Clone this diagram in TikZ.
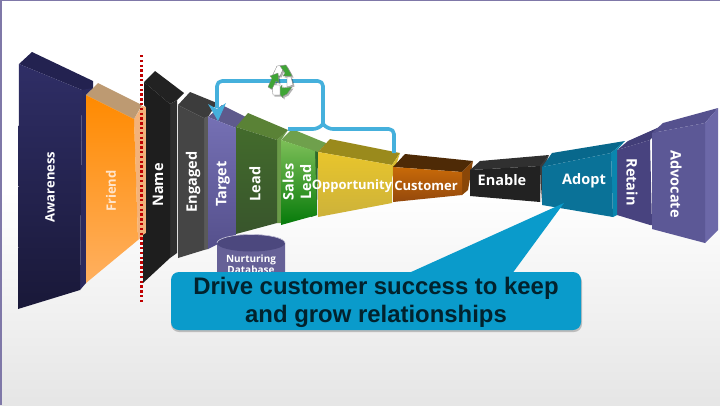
\documentclass[tikz,border=0pt]{standalone}
\usepackage{fontspec}
\setmainfont{Open Sans}
\newfontfamily\calloutfont{Liberation Sans}
\usetikzlibrary{arrows.meta,calc}
\definecolor{flow}{HTML}{45B0DC}
\definecolor{callblue}{HTML}{0A9BCB}
\definecolor{slideedge}{HTML}{7F78A8}
\definecolor{awaT}{HTML}{2F2E66}\definecolor{awaB}{HTML}{191838}\definecolor{awaTop}{HTML}{232250}\definecolor{awaS}{HTML}{2B2A5E}
\definecolor{friT}{HTML}{FF8A00}\definecolor{friB}{HTML}{FFB060}\definecolor{friTop}{HTML}{BD9A72}\definecolor{friS}{HTML}{F3B27A}
\definecolor{namF}{HTML}{1E1E1E}\definecolor{namS}{HTML}{2E2E2E}\definecolor{namTop}{HTML}{222222}
\definecolor{engF}{HTML}{454545}\definecolor{engS}{HTML}{5A5A5A}\definecolor{engTop}{HTML}{3C3C3C}
\definecolor{tarT}{HTML}{7570B4}\definecolor{tarB}{HTML}{55508C}\definecolor{tarTop}{HTML}{5E5A8C}
\definecolor{leaT}{HTML}{436B2C}\definecolor{leaB}{HTML}{38552C}\definecolor{leaTop}{HTML}{5A8236}\definecolor{leaS}{HTML}{6A9A48}
\definecolor{salT}{HTML}{7DBF58}\definecolor{salB}{HTML}{067A0A}\definecolor{salTop}{HTML}{6FA04C}\definecolor{salS}{HTML}{2F6A2A}
\definecolor{oppT}{HTML}{E8C52C}\definecolor{oppB}{HTML}{CDB23A}\definecolor{oppTop}{HTML}{9A8A1C}\definecolor{oppS}{HTML}{D9BC30}
\definecolor{cusT}{HTML}{C86A08}\definecolor{cusB}{HTML}{94480C}\definecolor{cusTop}{HTML}{4E2A06}\definecolor{cusS}{HTML}{8A4708}
\definecolor{enaF}{HTML}{222222}\definecolor{enaTop}{HTML}{303030}\definecolor{enaS}{HTML}{3C3C3C}
\definecolor{adoF}{HTML}{0A7298}\definecolor{adoTop}{HTML}{08688C}\definecolor{adoS}{HTML}{0A86AE}
\definecolor{retF}{HTML}{48437F}\definecolor{retTop}{HTML}{423E78}
\definecolor{advF}{HTML}{5C5896}\definecolor{advTop}{HTML}{55518E}\definecolor{advS}{HTML}{6C68A8}
\definecolor{recG}{HTML}{3FA535}
\tikzset{
 lab/.style={text=white,font=\bfseries\fontsize{13}{14}\selectfont,inner sep=0pt,align=center},
 lab145/.style={lab,font=\bfseries\fontsize{14.5}{15}\selectfont},
 vlab/.style={lab,rotate=90},
 vlabbig/.style={lab145,rotate=90},
 rlabbig/.style={lab145,rotate=-90},
 flowline/.style={draw=flow,line width=3.6pt,line join=round,rounded corners=5pt},
 reca/.style={fill=recG,draw=black!45,line width=.3pt},
 recb/.style={fill=white,draw=black!55,line width=.3pt},
}
\newcommand{\vface}[3]{\shade[top color=#1,bottom color=#2] #3 -- cycle;}
\newcommand{\pface}[2]{\fill[#1] #2 -- cycle;}
\newcommand{\recblades}[2]{%
\path[#2] (272.7,75) -- (277,66) -- (285,65) -- (280,76) -- cycle;
\path[#1] (280,66) -- (286,65) -- (290,72) -- (292,76) -- (283,76) -- (285,73) -- cycle;
\path[#2] (287,77) -- (291,77) -- (293,85) -- (287,87) -- cycle;
\path[#1] (282,88) -- (292,87) -- (287,94) -- (283,96) -- (283,98) -- (277,91) -- (282,85) -- cycle;
\path[#2] (272,85) -- (280,85) -- (280,95) -- (273,95) -- cycle;
\path[#1] (268,87) -- (272,78) -- (270,76) -- (278,73) -- (279,83) -- (276,81) -- (272,89) -- cycle;}
\begin{document}
\begin{tikzpicture}[x=1pt,y=-1pt]
\useasboundingbox (0,0) rectangle (720,405);
% background
\fill[white] (0,0) rectangle (720,405);
\shade[top color=white,bottom color=black!10] (0,190) rectangle (720,405);
\fill[slideedge] (0,0) rectangle (720,1);
\fill[slideedge] (0,0) rectangle (1.5,405);
% Awareness
\pface{awaTop}{(19,64) -- (32,52) -- (93,81) -- (93,90) -- (82,90)}
\pface{awaS}{(82,90) -- (93,88) -- (86,95) -- (86,283) -- (80,290)}
\vface{awaT}{awaB}{(19,64) -- (82,90) -- (80,290) -- (18,309)}
% Friend
\pface{friS}{(134,119) -- (142,106) -- (147,107) -- (147,233) -- (138,240)}
\pface{friTop}{(86,95) -- (98,83) -- (142,105) -- (134,119)}
\vface{friT}{friB}{(86,95) -- (134,119) -- (138,240) -- (86,283)}
% Name
\pface{namTop}{(144,82) -- (155,71) -- (184,93) -- (177,100) -- (170,104)}
\pface{namS}{(170,104) -- (177,100) -- (177,253) -- (170,258)}
\pface{namF}{(144,82) -- (170,104) -- (170,258) -- (143,283) -- (143,235) -- (146,233) -- (146,107) -- (144,105)}
% Engaged
\pface{engTop}{(178,105) -- (190,92) -- (217,103) -- (208,117) -- (204,118)}
\pface{engS}{(204,118) -- (208,116) -- (208,249) -- (204,250)}
\pface{engF}{(178,105) -- (204,118) -- (204,250) -- (178,258)}
% Target
\pface{tarTop}{(208,117) -- (222,105) -- (248,118) -- (236,128)}
\vface{tarT}{tarB}{(208,117) -- (236,128) -- (236,235) -- (208,249)}
% Lead
\pface{leaS}{(277,140) -- (288,130) -- (281,140) -- (281,223) -- (277,223)}
\pface{leaTop}{(236,127) -- (248,113) -- (288,130) -- (277,140)}
\vface{leaT}{leaB}{(236,127) -- (277,140) -- (277,223) -- (236,234)}
% Sales Lead
\pface{salS}{(311,148) -- (326,143) -- (318,152) -- (317,215) -- (311,217)}
\pface{salTop}{(281,140) -- (292,129) -- (326,143) -- (318,152) -- (311,150)}
\vface{salT}{salB}{(281,140) -- (315,151) -- (317,215) -- (281,225)}
% Opportunity
\pface{oppTop}{(318,152) -- (330,139) -- (400,153) -- (392,165)}
\pface{oppS}{(392,165) -- (400,153) -- (392,178)}
\vface{oppT}{oppB}{(318,152) -- (392,165) -- (392,203) -- (318,217)}
% Customer
\pface{cusTop}{(393,167) -- (405,154) -- (473,161) -- (462,172)}
\pface{cusS}{(462,172) -- (473,161) -- (468,190) -- (462,195)}
\vface{cusT}{cusB}{(393,167) -- (462,172) -- (462,195) -- (393,202)}
% Enable
\pface{enaTop}{(470,170) -- (480,161) -- (549,155) -- (541,166)}
\pface{enaS}{(540,166) -- (549,155) -- (543,170) -- (541,202)}
\pface{enaF}{(470,170) -- (540,166) -- (540,202) -- (470,196)}
% Advocate / Retain
\pface{retTop}{(617,150) -- (628,141) -- (664,125) -- (650,140)}
\pface{retF}{(617,150) -- (650,140) -- (652,225) -- (650,225) -- (617,215)}
\pface{advTop}{(652,133) -- (663,123) -- (718,108) -- (705,123)}
\pface{advS}{(705,123) -- (718,108) -- (718,230) -- (705,243)}
\pface{advF}{(652,133) -- (705,123) -- (705,243) -- (652,229)}
% Adopt
\pface{adoTop}{(542,167) -- (552,153) -- (625,141) -- (611,153)}
\pface{adoS}{(611,153) -- (625,141) -- (617,150) -- (617,215) -- (613,217)}
\pface{adoF}{(542,167) -- (611,153) -- (613,217) -- (542,205)}
% Labels
\node[vlab] (awareness) at (50,187) {Awareness};
\node[vlab,text=white!80!orange] (friend) at (111,191) {Friend};
\node[vlabbig] (name) at (158,185) {Name};
\node[vlabbig] (engaged) at (193,182) {Engaged};
\node[vlabbig] (target) at (223,184) {Target};
\node[vlabbig] (lead) at (255,184) {Lead};
\node[vlabbig,font=\bfseries\fontsize{14.5}{17.5}\selectfont] (sales) at (297,182) {Sales\\Lead};
\node[lab] (opp) at (352,186) {Opportunity};
\node[lab] (customer) at (426,186) {Customer};
\node[lab145] (enable) at (502,180) {Enable};
\node[lab145] (adopt) at (584,181) {Adopt};
\node[rlabbig] (retain) at (632,182) {Retain};
\node[rlabbig] (advocate) at (676,184) {Advocate};
% Separator
\draw[draw=red!75!black,line width=2.4pt,dash pattern=on 2.4pt off 2.4pt] (141.5,55) -- (141.5,302);
% Feedback
\coordinate (brL) at (288,129);
\coordinate (brR) at (394,153);
\coordinate (brM) at (323,81);
\coordinate (arrEnd) at (218,121);
\draw[flowline] (brL) -- (318,129) -- (323,124);
\draw[flowline] (323,124) -- (328,129) -- (394,129) -- (brR);
\draw[flowline] (323,124) -- (brM) -- (217,81) -- (217,108);
\fill[flow] (208,104) -- (217,109) -- (226,103) -- (arrEnd) -- cycle;
% Recycle icon
\begin{scope}[shift={(1.5,1.5)},opacity=.3]
\recblades{fill=black}{fill=black}
\end{scope}
\recblades{reca}{recb}
% Cylinder
\fill[tarB!90!white] (217,243) arc[x radius=34,y radius=8.5,start angle=180,end angle=360] -- (285,280) -- (217,280) -- cycle;
\fill[tarB!90!black] (251,243) ellipse [x radius=34,y radius=8.5];
\draw[white!70!tarB,line width=.6pt] (217,243) arc[x radius=34,y radius=8.5,start angle=180,end angle=360];
\node[lab,font=\bfseries\fontsize{10}{11.5}\selectfont] (nurture) at (251,264) {Nurturing\\Database};
% Callout
\fill[black!55,opacity=.4,rounded corners=8pt] (171,274) rectangle (582,332);
\node[fill=callblue,rounded corners=8pt,minimum width=410pt,minimum height=58pt,inner sep=0pt] (callout) at (376,301) {};
\coordinate (tip) at (564,203);
\fill[callblue] (410,272.5) -- (tip) -- (513,272.5) -- cycle;
\node[text=black!78!callblue,align=center,inner sep=0pt,font=\calloutfont\bfseries\fontsize{23.9}{28}\selectfont] (calltext) at (376,302.5) {Drive customer success to keep\\and grow relationships};
\end{tikzpicture}
\end{document}
